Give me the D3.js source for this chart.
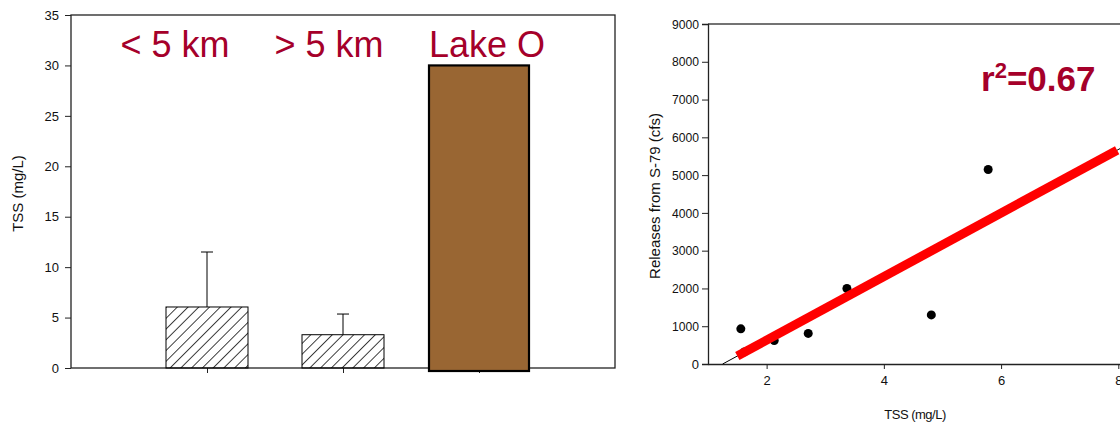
<!DOCTYPE html>
<html>
<head>
<meta charset="utf-8">
<style>
body { margin: 0; background: #fff; }
svg { font-family: "Liberation Sans", Arial, sans-serif; }
.axis text { font-size: 13px; fill: #111; }
.axis path, .axis line { stroke: #222; }
</style>
</head>
<body>
<svg id="chart" width="1120" height="423"></svg>
<script src="https://cdn.jsdelivr.net/npm/d3@7"></script>
<script>
// left panel: TSS by site group
var sites = ["< 5 km", "> 5 km", "Lake O"];
var tssMean = [6.05, 3.3, 30];
var tssErr = [11.5, 5.35, null];   // top of error bar, none drawn for Lake O
var tssTicks = [0, 5, 10, 15, 20, 25, 30, 35];

// right panel: releases vs TSS
var scatterTss = [1.56, 1.62, 2.13, 2.71, 3.37, 4.81, 5.78];
var scatterRel = [930, 320, 620, 810, 2000, 1300, 5150];
var fitSlope = 841, fitIntercept = -1051;
var fitRed = [1.5, 7.98];           // thick red overlay segment (TSS)
var relTicks = [0, 1000, 2000, 3000, 4000, 5000, 6000, 7000, 8000, 9000];
var tssXTicks = [2, 4, 6, 8];

var svg = d3.select("#chart");
var red = "#a5002a";

// hatch pattern
svg.append("defs").append("pattern")
    .attr("id", "hatch")
    .attr("patternUnits", "userSpaceOnUse")
    .attr("width", 7.6).attr("height", 7.6)
    .attr("patternTransform", "rotate(45)")
  .append("line")
    .attr("x1", 0).attr("y1", 0).attr("x2", 0).attr("y2", 7.6)
    .attr("stroke", "#000").attr("stroke-width", 1.5);

// ---------- left panel ----------
var L = {left: 71, right: 615, top: 15, bottom: 368};
var x1 = d3.scalePoint().domain(sites).range([L.left, L.right]).padding(1);
var y1 = d3.scaleLinear().domain([0, 35]).range([L.bottom, L.top]);

var gL = svg.append("g");

gL.append("rect")  // frame
    .attr("x", L.left).attr("y", L.top)
    .attr("width", L.right - L.left).attr("height", L.bottom - L.top)
    .attr("fill", "none").attr("stroke", "#222").attr("stroke-width", 1.3);

gL.append("g").attr("class", "axis")
    .attr("transform", "translate(" + L.left + ",0)")
    .call(d3.axisLeft(y1).tickValues(tssTicks).tickSize(6).tickPadding(6).tickFormat(d3.format("d")))
    .call(function(g) { g.select(".domain").remove(); });

gL.append("g").attr("class", "axis")
    .attr("transform", "translate(0," + L.bottom + ")")
    .call(d3.axisBottom(x1).tickSize(5).tickFormat(""))
    .call(function(g) { g.select(".domain").remove(); });

var barW = [82, 82, 100];
gL.selectAll(".bar")
    .data(sites)
  .enter().append("rect")
    .attr("class", "bar")
    .attr("x", function(d, i) { return x1(d) - barW[i] / 2; })
    .attr("y", function(d, i) { return y1(tssMean[i]); })
    .attr("width", function(d, i) { return barW[i]; })
    .attr("height", function(d, i) { return y1(0) - y1(tssMean[i]) + (i == 2 ? 3 : 0); })
    .attr("fill", function(d, i) { return i == 2 ? "#996633" : "url(#hatch)"; })
    .attr("stroke", "#000")
    .attr("stroke-width", function(d, i) { return i == 2 ? 2.2 : 1; });

// error bars
var errs = sites.filter(function(d, i) { return tssErr[i] != null; });
gL.selectAll(".err")
    .data(errs)
  .enter().append("path")
    .attr("class", "err")
    .attr("fill", "none").attr("stroke", "#000").attr("stroke-width", 1)
    .attr("d", function(d) {
      var i = sites.indexOf(d), cx = x1(d);
      return "M" + cx + "," + y1(tssMean[i]) + "V" + y1(tssErr[i]) +
             "M" + (cx - 6) + "," + y1(tssErr[i]) + "H" + (cx + 6);
    });

// red category labels above bars
var labOff = [-32, -14, 8];
gL.selectAll(".cat")
    .data(sites)
  .enter().append("text")
    .attr("class", "cat")
    .attr("x", function(d, i) { return x1(d) + labOff[i]; })
    .attr("y", 57)
    .attr("text-anchor", "middle")
    .attr("font-size", 36)
    .attr("fill", red)
    .text(function(d) { return d; });

gL.append("text")
    .attr("transform", "translate(23," + ((L.top + L.bottom) / 2 + 2) + ") rotate(-90)")
    .attr("text-anchor", "middle")
    .attr("font-size", 15)
    .attr("fill", "#111")
    .text("TSS (mg/L)");

// ---------- right panel ----------
var R = {left: 708, right: 1140, top: 24, bottom: 364};
var x2 = d3.scaleLinear().domain([1, 8.37]).range([R.left, R.right]);
var y2 = d3.scaleLinear().domain([0, 9000]).range([R.bottom, R.top]);

var gR = svg.append("g");

gR.append("line")  // top border
    .attr("x1", R.left).attr("x2", R.right)
    .attr("y1", R.top).attr("y2", R.top)
    .attr("stroke", "#444").attr("stroke-width", 1.3);

gR.append("g").attr("class", "axis")
    .attr("transform", "translate(" + R.left + ",0)")
    .call(d3.axisLeft(y2).tickValues(relTicks).tickSize(6).tickPadding(3).tickFormat(d3.format("d")))
    .call(function(g) { g.selectAll("text").attr("font-size", 12).attr("textLength", 27).attr("lengthAdjust", "spacingAndGlyphs"); })
    .call(function(g) { g.select(".domain").attr("stroke-width", 1.3); });
gR.selectAll(".axis text").filter(function(d) { return d < 1000; }).attr("textLength", null);

gR.append("g").attr("class", "axis")
    .attr("transform", "translate(0," + R.bottom + ")")
    .call(d3.axisBottom(x2).tickValues(tssXTicks).tickSize(5).tickPadding(7).tickSizeOuter(0))
    .call(function(g) { g.select(".domain").attr("stroke-width", 1.3); });

// regression line (thin black) from y=0 up
var x0 = -fitIntercept / fitSlope;
gR.append("line")
    .attr("x1", x2(x0)).attr("y1", y2(0))
    .attr("x2", x2(8.2)).attr("y2", y2(fitSlope * 8.2 + fitIntercept))
    .attr("stroke", "#000").attr("stroke-width", 1);

gR.selectAll(".pt")
    .data(scatterTss)
  .enter().append("circle")
    .attr("class", "pt")
    .attr("cx", function(d) { return x2(d); })
    .attr("cy", function(d, i) { return y2(scatterRel[i]); })
    .attr("r", 4.5)
    .attr("fill", "#000");

gR.append("line")
    .attr("x1", x2(fitRed[0])).attr("y1", y2(fitSlope * fitRed[0] + fitIntercept))
    .attr("x2", x2(fitRed[1])).attr("y2", y2(fitSlope * fitRed[1] + fitIntercept))
    .attr("stroke", "#ff0000").attr("stroke-width", 9);

gR.append("text")
    .attr("transform", "translate(660," + ((R.top + R.bottom) / 2 + 2) + ") rotate(-90)")
    .attr("text-anchor", "middle")
    .attr("font-size", 15)
    .attr("fill", "#111")
    .text("Releases from S-79 (cfs)");

gR.append("text")
    .attr("x", 915).attr("y", 419)
    .attr("text-anchor", "middle")
    .attr("font-size", 13)
    .attr("fill", "#111")
    .attr("letter-spacing", -0.5)
    .text("TSS (mg/L)");

var r2 = gR.append("text")
    .attr("x", 981).attr("y", 91)
    .attr("font-size", 35)
    .attr("font-weight", "bold")
    .attr("fill", red);
r2.append("tspan").text("r");
r2.append("tspan").attr("font-size", 22).attr("dy", -13).text("2");
r2.append("tspan").attr("dy", 13).text("=0.67");
</script>
</body>
</html>
